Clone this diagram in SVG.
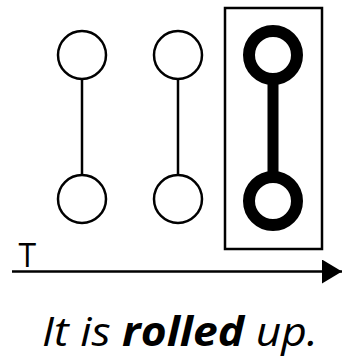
<svg xmlns="http://www.w3.org/2000/svg" width="342" height="358" viewBox="0 0 342 358">
<defs>
<style>
.thin{fill:#fff;stroke:#000;stroke-width:2.5}
.thick{fill:#fff;stroke:#000;stroke-width:12}
.ln{stroke:#000;stroke-width:2.5;fill:none}
.txt{font-family:"Open Sans","Noto Sans",sans-serif;fill:#000}
</style>
<marker id="ah" markerWidth="20" markerHeight="24" refX="20" refY="12" orient="auto" markerUnits="userSpaceOnUse">
<path d="M0,0 L20,12 L0,24 Z" fill="#000"/>
</marker>
</defs>
<g id="connectors">
<line class="ln" x1="82" y1="80" x2="82" y2="174"/>
<line class="ln" x1="178" y1="80" x2="178" y2="174"/>
<line x1="273" y1="80" x2="273" y2="176" stroke="#000" stroke-width="11"/>
<line class="ln" x1="12" y1="271.5" x2="342" y2="271.5" marker-end="url(#ah)"/>
</g>
<g id="n1a"><circle class="thin" cx="82" cy="55" r="24"/></g>
<g id="n1b"><circle class="thin" cx="82" cy="199" r="24"/></g>
<g id="n2a"><circle class="thin" cx="178" cy="55" r="24"/></g>
<g id="n2b"><circle class="thin" cx="178" cy="199" r="24"/></g>
<g id="box"><rect class="ln" x="225" y="8" width="97" height="241"/></g>
<g id="n3a"><circle class="thick" cx="273" cy="55" r="24"/></g>
<g id="n3b"><circle class="thick" cx="273" cy="201" r="24"/></g>
<text class="txt" x="18.5" y="267" font-size="32">T</text>
<text class="txt" x="42" y="346" font-size="41" font-style="italic" textLength="276" lengthAdjust="spacingAndGlyphs">It is <tspan font-weight="bold">rolled</tspan> up.</text>
</svg>
